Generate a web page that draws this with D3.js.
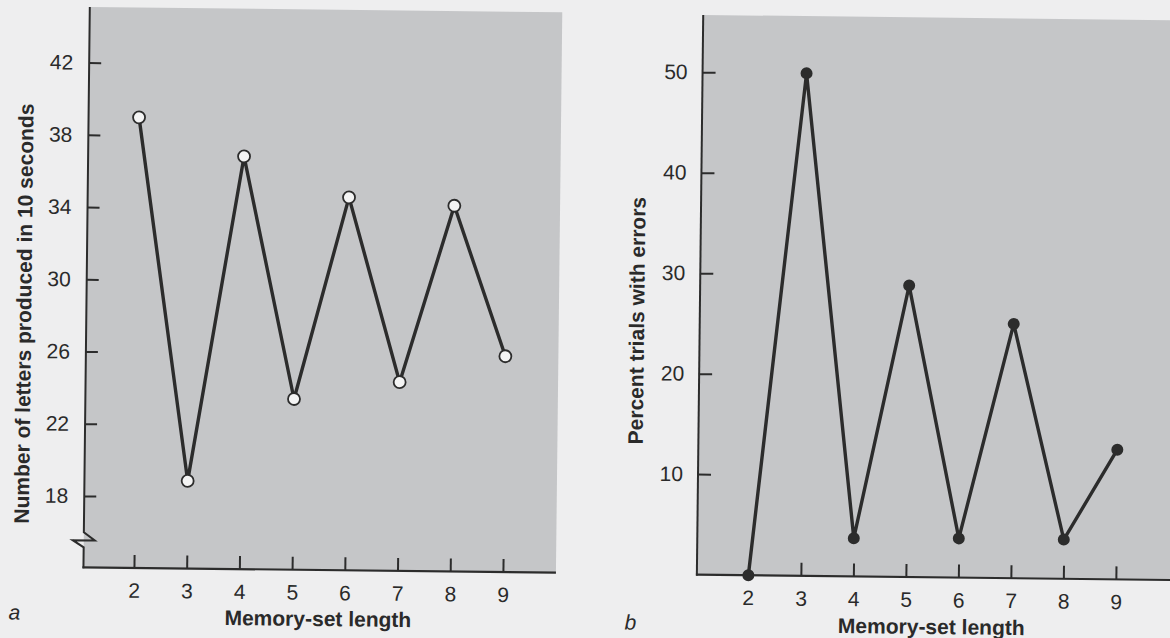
<!DOCTYPE html>
<html lang="en">
  <head>
    <title>Memory-set length</title>
    <script src="https://d3js.org/d3.v7.min.js"></script>
    <style>
      body { margin: 0; background: #eeeeef; }
      text { font-family: "Liberation Sans", Arial, Helvetica, sans-serif; fill: #2a2a2a; }
    </style>
  </head>
  <body>
  <script>
  const width = 1170;
  const height = 638;

  // data
  const memorySetLength = [2, 3, 4, 5, 6, 7, 8, 9];
  const lettersProduced = [39.0, 18.9, 36.9, 23.5, 34.7, 24.5, 34.3, 26.0];
  const percentErrors = [0, 50, 3.8, 29.0, 3.9, 25.3, 3.9, 12.9];
  const lettersTicks = [18, 22, 26, 30, 34, 38, 42];
  const errorTicks = [10, 20, 30, 40, 50];

  const ink = '#2c2c2c';
  const txt = '#2a2a2a';
  const plotGray = '#c5c6c8';
  const fmt = d3.format('d');

  const svg = d3.select(document.body).append('svg')
    .attr('width', width).attr('height', height);

  // the scan is tilted a little, so each panel is turned slightly
  const tilt = 0.65;

  // ---- panel a ----
  const ga = svg.append('g').attr('transform', 'rotate(' + tilt + ',320,300)');
  const xa = d3.scaleLinear().domain([2, 9]).range([137, 506]);
  const ya = d3.scaleLinear().domain([18, 42]).range([498.6, 65.2]);
  const axA = 86.5, topA = 9.6, bottomA = 570, rightA = 559, breakY = 543;

  ga.append('rect')
    .attr('x', axA).attr('y', topA)
    .attr('width', rightA - axA).attr('height', bottomA - topA)
    .attr('fill', plotGray);

  ga.append('g')
    .attr('transform', 'translate(' + axA + ',0)')
    .call(d3.axisLeft(ya).tickValues(lettersTicks).tickFormat(fmt).tickSize(-12).tickPadding(16))
    .call(g => g.select('.domain').remove())
    .call(g => g.selectAll('line').attr('stroke', ink).attr('stroke-width', 2))
    .call(g => g.selectAll('text').attr('font-size', 21).attr('fill', txt));

  ga.append('g')
    .attr('transform', 'translate(0,' + bottomA + ')')
    .call(d3.axisBottom(xa).tickValues(memorySetLength).tickFormat(fmt).tickSize(-13).tickPadding(15))
    .call(g => g.select('.domain').remove())
    .call(g => g.selectAll('line').attr('stroke', ink).attr('stroke-width', 2))
    .call(g => g.selectAll('text').attr('font-size', 21).attr('fill', txt));

  // y axis with a break near the bottom
  ga.append('path')
    .attr('d', 'M' + axA + ',' + topA + 'V' + (breakY - 8) +
      'L' + (axA + 11) + ',' + breakY + 'H' + (axA - 11) +
      'L' + axA + ',' + (breakY + 7) + 'V' + (bottomA + 1))
    .attr('fill', 'none').attr('stroke', ink).attr('stroke-width', 2);

  ga.append('line')
    .attr('x1', axA - 1).attr('x2', rightA)
    .attr('y1', bottomA).attr('y2', bottomA)
    .attr('stroke', ink).attr('stroke-width', 2.2);

  const lineA = d3.line()
    .x((d, i) => xa(memorySetLength[i]))
    .y(d => ya(d));

  ga.append('path')
    .attr('d', lineA(lettersProduced))
    .attr('fill', 'none').attr('stroke', ink).attr('stroke-width', 3.4)
    .attr('stroke-linejoin', 'miter');

  ga.selectAll('circle.pa').data(lettersProduced).enter()
    .append('circle')
    .attr('cx', (d, i) => xa(memorySetLength[i]))
    .attr('cy', d => ya(d))
    .attr('r', 6)
    .attr('fill', '#f4f4f4').attr('stroke', ink).attr('stroke-width', 1.8);

  ga.append('text')
    .attr('transform', 'translate(24,317) rotate(-90)')
    .attr('text-anchor', 'middle').attr('dy', '0.35em')
    .attr('font-size', 21).attr('font-weight', 'bold')
    .text('Number of letters produced in 10 seconds');

  ga.append('text')
    .attr('x', 321.5).attr('y', 626)
    .attr('text-anchor', 'middle')
    .attr('font-size', 21).attr('font-weight', 'bold')
    .text('Memory-set length');

  ga.append('text')
    .attr('x', 18).attr('y', 623)
    .attr('text-anchor', 'middle')
    .attr('font-size', 21).attr('font-style', 'italic')
    .text('a');

  // ---- panel b ----
  const gb = svg.append('g').attr('transform', 'rotate(' + tilt + ',935,300)');
  const xb = d3.scaleLinear().domain([2, 9]).range([751.5, 1119]);
  const yb = d3.scaleLinear().domain([0, 50]).range([577.3, 74.8]);
  const axB = 700, topB = 17.6, bottomB = 577.3, rightB = 1220;

  gb.append('rect')
    .attr('x', axB).attr('y', topB)
    .attr('width', rightB - axB).attr('height', bottomB - topB)
    .attr('fill', plotGray);

  gb.append('g')
    .attr('transform', 'translate(' + axB + ',0)')
    .call(d3.axisLeft(yb).tickValues(errorTicks).tickFormat(fmt).tickSize(-13).tickPadding(15))
    .call(g => g.select('.domain').remove())
    .call(g => g.selectAll('line').attr('stroke', ink).attr('stroke-width', 2))
    .call(g => g.selectAll('text').attr('font-size', 21).attr('fill', txt));

  gb.append('g')
    .attr('transform', 'translate(0,' + bottomB + ')')
    .call(d3.axisBottom(xb).tickValues(memorySetLength.slice(1)).tickFormat(fmt).tickSize(-13).tickPadding(15))
    .call(g => g.select('.domain').remove())
    .call(g => g.selectAll('line').attr('stroke', ink).attr('stroke-width', 2))
    .call(g => g.selectAll('text').attr('font-size', 21).attr('fill', txt));

  // label for 2 sits under the point, no tick mark there
  gb.append('text')
    .attr('x', xb(2)).attr('y', bottomB + 15).attr('dy', '0.71em')
    .attr('text-anchor', 'middle').attr('font-size', 21)
    .text(fmt(memorySetLength[0]));

  gb.append('line')
    .attr('x1', axB).attr('x2', axB)
    .attr('y1', topB).attr('y2', bottomB + 1)
    .attr('stroke', ink).attr('stroke-width', 2);

  gb.append('line')
    .attr('x1', axB - 1).attr('x2', rightB)
    .attr('y1', bottomB).attr('y2', bottomB)
    .attr('stroke', ink).attr('stroke-width', 2.2);

  const lineB = d3.line()
    .x((d, i) => xb(memorySetLength[i]))
    .y(d => yb(d));

  gb.append('path')
    .attr('d', lineB(percentErrors))
    .attr('fill', 'none').attr('stroke', ink).attr('stroke-width', 3.4)
    .attr('stroke-linejoin', 'miter');

  gb.selectAll('circle.pb').data(percentErrors).enter()
    .append('circle')
    .attr('cx', (d, i) => xb(memorySetLength[i]))
    .attr('cy', d => yb(d))
    .attr('r', 6)
    .attr('fill', ink);

  gb.append('text')
    .attr('transform', 'translate(637,324) rotate(-90)')
    .attr('text-anchor', 'middle').attr('dy', '0.35em')
    .attr('font-size', 21).attr('font-weight', 'bold')
    .text('Percent trials with errors');

  gb.append('text')
    .attr('x', 935).attr('y', 634)
    .attr('text-anchor', 'middle')
    .attr('font-size', 21).attr('font-weight', 'bold')
    .text('Memory-set length');

  gb.append('text')
    .attr('x', 634).attr('y', 633)
    .attr('text-anchor', 'middle')
    .attr('font-size', 21).attr('font-style', 'italic')
    .text('b');
</script>
  </body>
</html>
